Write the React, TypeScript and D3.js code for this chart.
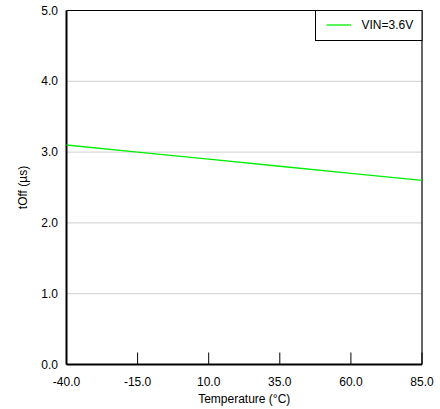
import React from "react";
import * as d3 from "d3";

const temps = [-40, -15, 10, 35, 60, 85];
const toff = [3.1, 3.0, 2.9, 2.8, 2.7, 2.6];
const xTicks = [-40, -15, 10, 35, 60, 85];
const yTicks = [0, 1, 2, 3, 4, 5];
const seriesName = "VIN=3.6V";

export default function App() {
  const W = 440, H = 409;
  const L = 66.5, R = 422, T = 10.5, B = 364.5;
  const x = d3.scaleLinear().domain([-40, 85]).range([L, R]);
  const y = d3.scaleLinear().domain([0, 5]).range([B, T]);
  const line = d3.line<number>().x((_, i) => x(temps[i])).y((d) => y(d));
  const font = "'Liberation Sans', Arial, sans-serif";
  const fs = 12;
  return (
    <svg width={W} height={H} style={{ position: "absolute", left: 0, top: 0 }} fontFamily={font}>
      <rect x={0} y={0} width={W} height={H} fill="#fff" />
      {yTicks.filter((t) => t > 0 && t < 5).map((t) => (
        <line key={t} x1={L} x2={R} y1={y(t)} y2={y(t)} stroke="#cfcfcf" strokeWidth={1} />
      ))}
      <line x1={L} x2={R} y1={T} y2={T} stroke="#000" strokeWidth={1.2} />
      <line x1={R} x2={R} y1={T} y2={B} stroke="#000" strokeWidth={1.2} />
      <line x1={L} x2={L} y1={T} y2={B} stroke="#000" strokeWidth={2} />
      <line x1={L} x2={R} y1={B} y2={B} stroke="#000" strokeWidth={2} />
      {xTicks.map((t) => (
        <line key={t} x1={x(t)} x2={x(t)} y1={B} y2={B - 12} stroke="#000" strokeWidth={1} />
      ))}
      {xTicks.map((t) => (
        <text key={t} x={x(t)} y={386} fontSize={fs} textAnchor="middle" fill="#000">
          {t.toFixed(1)}
        </text>
      ))}
      {yTicks.map((t) => (
        <text key={t} x={58} y={y(t) + 4} fontSize={fs} textAnchor="end" fill="#000">
          {t.toFixed(1)}
        </text>
      ))}
      <text x={L + (R - L) / 2} y={403} fontSize={fs} textAnchor="middle" fill="#000">
        Temperature (°C)
      </text>
      <text transform={`translate(27,${(T + B) / 2}) rotate(-90)`} fontSize={fs} textAnchor="middle" fill="#000">
        tOff (µs)
      </text>
      <path d={line(toff) || ""} fill="none" stroke="#00ee00" strokeWidth={1.3} />
      <rect x={315.5} y={T} width={R - 315.5} height={30} fill="#fff" stroke="#000" strokeWidth={1} />
      <line x1={326.5} x2={351} y1={25} y2={25} stroke="#00ee00" strokeWidth={1.3} />
      <text x={361.5} y={29} fontSize={fs} fill="#000">{seriesName}</text>
    </svg>
  );
}
